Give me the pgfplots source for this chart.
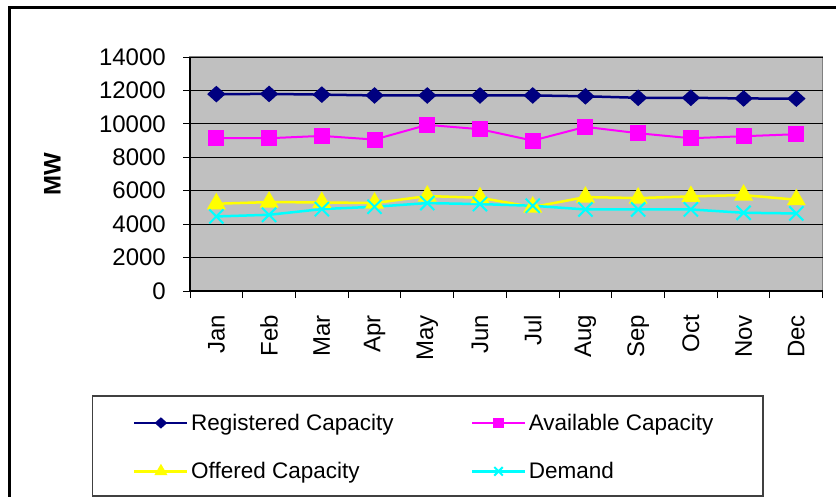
\documentclass[border=0pt]{standalone}
\usepackage{pgfplots}
\pgfplotsset{compat=1.18}
\usepackage{fontspec}
\setmainfont{Liberation Sans}
\definecolor{regc}{RGB}{0,0,128}
\definecolor{avac}{RGB}{255,0,255}
\definecolor{offc}{RGB}{255,255,0}
\definecolor{demc}{RGB}{0,255,255}
\definecolor{plotbg}{RGB}{192,192,192}
\begin{document}
\begin{tikzpicture}
\useasboundingbox (0pt,0pt) rectangle (836pt,-497pt);
\fill[white] (0pt,0pt) rectangle (836pt,-497pt);
\draw[black,line width=3pt] (9pt,-560pt) -- (9pt,-8pt) -- (900pt,-8pt);
\draw[black!75,line width=1.2pt] (92.7pt,-396pt) rectangle (763pt,-496pt);
\begin{axis}[
  at={(190pt,-291pt)}, anchor=south west,
  scale only axis, width=632.7pt, height=234pt,
  xmin=0.5, xmax=12.5, ymin=0, ymax=14000,
  axis x line*=bottom, axis y line*=left,
  axis line style={black, line width=1.3pt},
  axis background/.style={fill=plotbg, draw=black!50, line width=1.2pt},
  xtick={1,...,12},
  xticklabels={Jan,Feb,Mar,Apr,May,Jun,Jul,Aug,Sep,Oct,Nov,Dec},
  minor xtick={0.5,1.5,...,12.5},
  every major x tick/.append style={draw=none},
  ytick={0,2000,...,14000},
  scaled y ticks=false,
  tick align=outside, major tick length=7pt, minor tick length=7pt,
  tick style={black, line width=1pt},
  ymajorgrids, grid style={black, line width=1pt},
  font=\fontsize{24}{28}\selectfont,
  /pgf/number format/assume math mode=true,
  /pgf/number format/1000 sep={},
  yticklabel style={anchor=east, inner sep=0pt, xshift=-17pt},
  xticklabel style={rotate=90, anchor=east, inner sep=0pt},
  xticklabel shift=17pt,
  ylabel={\bfseries MW},
  ylabel style={at={(axis description cs:-0.2176,0.5)}, anchor=center},
  legend columns=2,
  legend style={at={(axis description cs:-0.0901,-0.525)}, anchor=north west,
    draw=none, fill=none, inner sep=0pt, row sep=30.6pt,
    nodes={inner sep=0pt, anchor=west},
    font=\fontsize{22.5}{26}\selectfont,
    /tikz/every even column/.append style={column sep=77pt},
    /tikz/every odd column/.append style={column sep=2.5pt}},
  legend image code/.code={\draw[mark repeat=2,mark phase=2,#1,every mark/.append style={scale=0.6}] plot coordinates {(0pt,0pt) (26.5pt,0pt) (53pt,0pt)};},
]
\addplot[regc, line width=2.5pt, mark=diamond*, mark size=7pt, mark options={solid, xscale=1.4, yscale=0.95}]
  coordinates {(1,11780) (2,11790) (3,11750) (4,11700) (5,11700) (6,11700) (7,11700) (8,11650) (9,11560) (10,11560) (11,11520) (12,11510)};
\addlegendentry{Registered Capacity}
\addplot[avac, line width=2pt, mark=square*, mark size=7pt, mark options={solid}]
  coordinates {(1,9140) (2,9140) (3,9280) (4,9060) (5,9940) (6,9680) (7,9000) (8,9820) (9,9440) (10,9140) (11,9260) (12,9380)};
\addlegendentry{Available Capacity}
\addplot[offc, line width=2.5pt, mark=triangle*, mark size=8.5pt, mark options={solid}]
  coordinates {(1,5220) (2,5320) (3,5300) (4,5260) (5,5680) (6,5580) (7,5020) (8,5620) (9,5560) (10,5660) (11,5740) (12,5460)};
\addlegendentry{Offered Capacity}
\addplot[demc, line width=2.5pt, mark=x, mark size=10pt, mark options={solid, line width=2pt}]
  coordinates {(1,4460) (2,4560) (3,4900) (4,5040) (5,5260) (6,5200) (7,5100) (8,4880) (9,4880) (10,4880) (11,4680) (12,4640)};
\addlegendentry{Demand}
\end{axis}
\end{tikzpicture}
\end{document}
